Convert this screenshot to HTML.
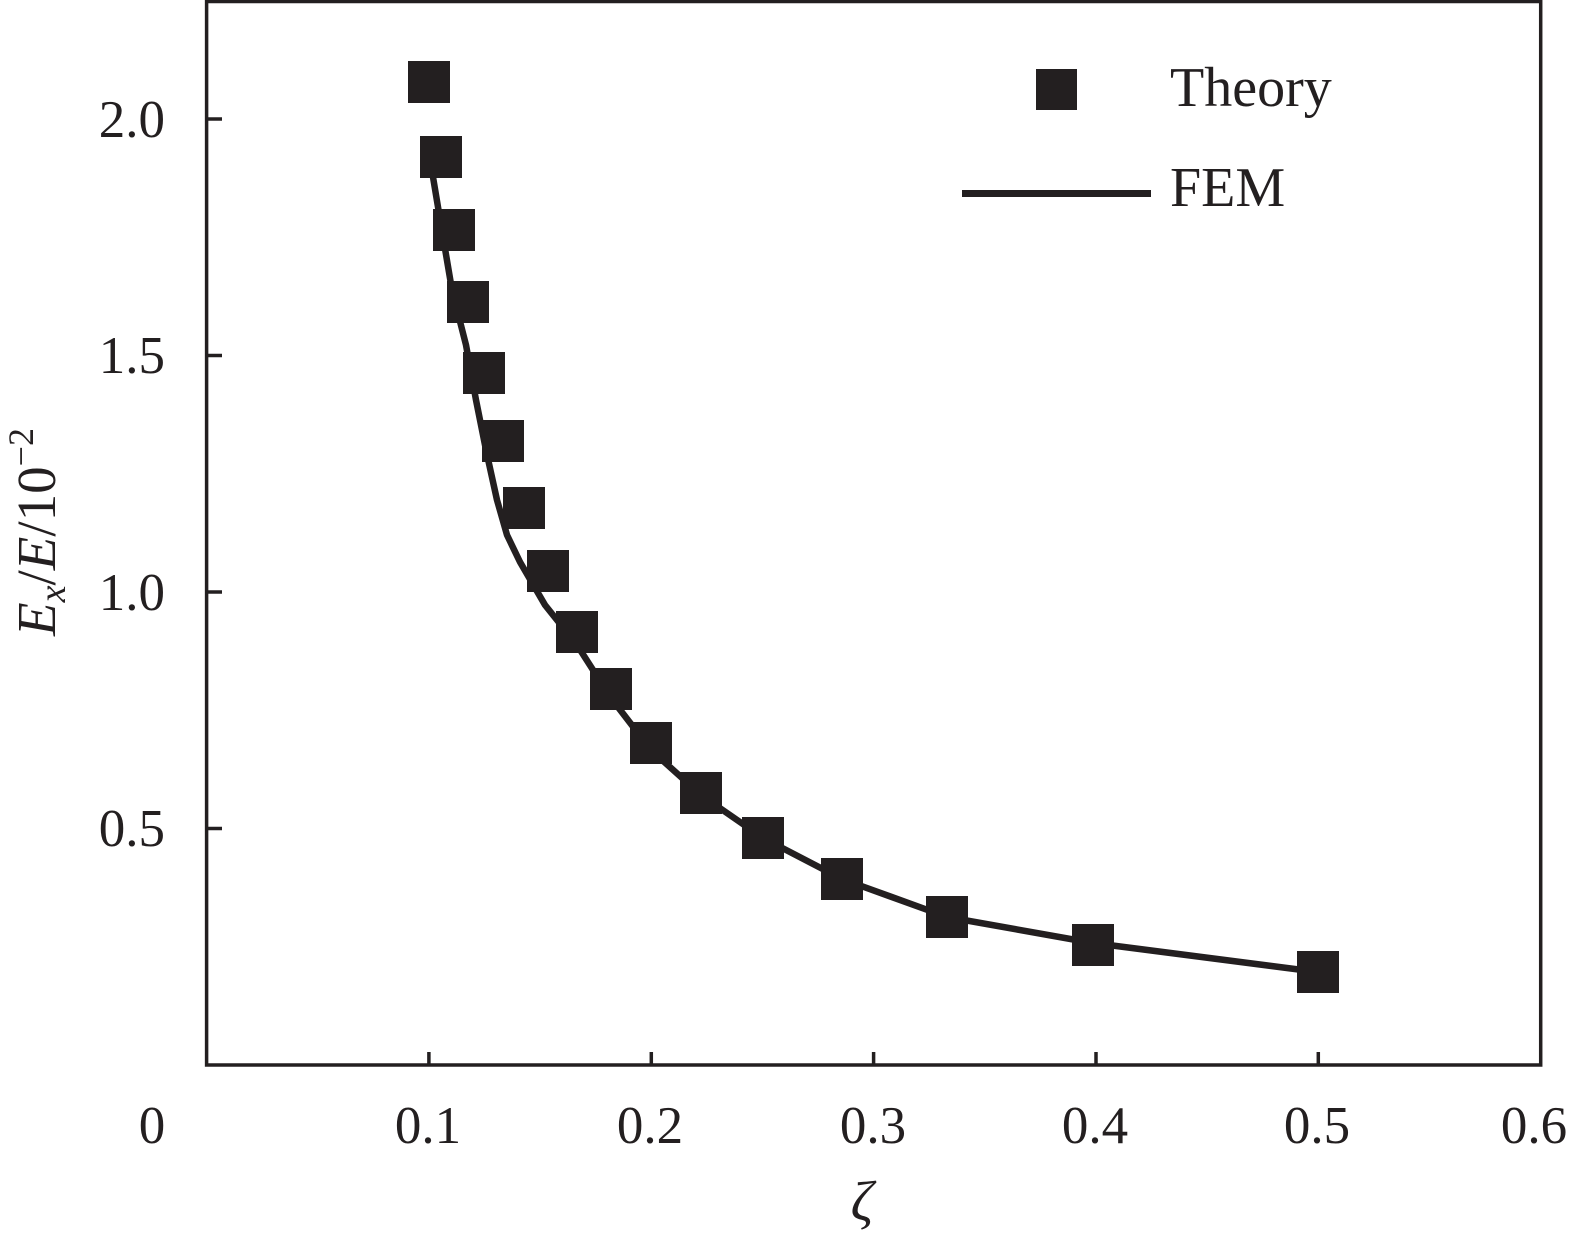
<!DOCTYPE html>
<html><head><meta charset="utf-8"><style>
html,body{margin:0;padding:0;background:#fff}
svg{display:block}
text{font-family:"Liberation Serif",serif;fill:#231f20}
</style></head><body>
<svg width="1575" height="1242" viewBox="0 0 1575 1242" xmlns="http://www.w3.org/2000/svg">
<g stroke="#231f20" fill="none" stroke-width="3.5">
<path d="M206.6 0 V1065 H1540.7 V0"/>
<line x1="206.6" y1="1.5" x2="1540.7" y2="1.5"/>
<line x1="428.9" y1="1065" x2="428.9" y2="1052"/>
<line x1="651.3" y1="1065" x2="651.3" y2="1052"/>
<line x1="873.6" y1="1065" x2="873.6" y2="1052"/>
<line x1="1096" y1="1065" x2="1096" y2="1052"/>
<line x1="1318.3" y1="1065" x2="1318.3" y2="1052"/>
<line x1="206.6" y1="119" x2="222" y2="119"/>
<line x1="206.6" y1="355.5" x2="222" y2="355.5"/>
<line x1="206.6" y1="592" x2="222" y2="592"/>
<line x1="206.6" y1="828.5" x2="222" y2="828.5"/>
</g>
<g font-size="53" text-anchor="middle">
<text x="152" y="1143">0</text>
<text x="428" y="1143">0.1</text>
<text x="650" y="1143">0.2</text>
<text x="873" y="1143">0.3</text>
<text x="1095" y="1143">0.4</text>
<text x="1317" y="1143">0.5</text>
<text x="1534" y="1143">0.6</text>
</g>
<g font-size="53" text-anchor="end">
<text x="165" y="137">2.0</text>
<text x="165" y="373">1.5</text>
<text x="165" y="610">1.0</text>
<text x="165" y="846">0.5</text>
</g>
<text x="862" y="1220" font-size="56" font-style="italic" text-anchor="middle">ζ</text>
<text transform="translate(55,532) rotate(-90)" font-size="55" text-anchor="middle"><tspan font-style="italic">E</tspan><tspan font-style="italic" font-size="38" dy="10">x</tspan><tspan dy="-10">/</tspan><tspan font-style="italic">E</tspan><tspan>/10</tspan><tspan font-size="36" dy="-22">−2</tspan></text>
<polyline fill="none" stroke="#231f20" stroke-width="6.5" stroke-linejoin="round" points="431,165 441,225 452,290 466,345 476,400 486,450 497,500 507,535 520,562 545,605 577,645 611,698 651,750 701,795 763,838 842,879 947,917 1093,943 1318,972"/>
<g fill="#231f20">
<rect x="408" y="61" width="42" height="42"/>
<rect x="420" y="136" width="42" height="42"/>
<rect x="433" y="209" width="42" height="42"/>
<rect x="447" y="281" width="42" height="42"/>
<rect x="463" y="352" width="42" height="42"/>
<rect x="482" y="420" width="42" height="42"/>
<rect x="503" y="487" width="42" height="42"/>
<rect x="527" y="550" width="42" height="42"/>
<rect x="556" y="611" width="42" height="42"/>
<rect x="590" y="668" width="42" height="42"/>
<rect x="630" y="722" width="42" height="42"/>
<rect x="680" y="772" width="42" height="42"/>
<rect x="742" y="817" width="42" height="42"/>
<rect x="821" y="858" width="42" height="42"/>
<rect x="926" y="896" width="42" height="42"/>
<rect x="1072" y="924" width="42" height="42"/>
<rect x="1297" y="951" width="42" height="42"/>
<rect x="1036" y="69" width="41" height="41"/>
<rect x="962" y="190" width="189" height="7"/>
</g>
<text x="1170" y="106" font-size="56">Theory</text>
<text x="1170" y="206" font-size="56">FEM</text>
</svg>
</body></html>
